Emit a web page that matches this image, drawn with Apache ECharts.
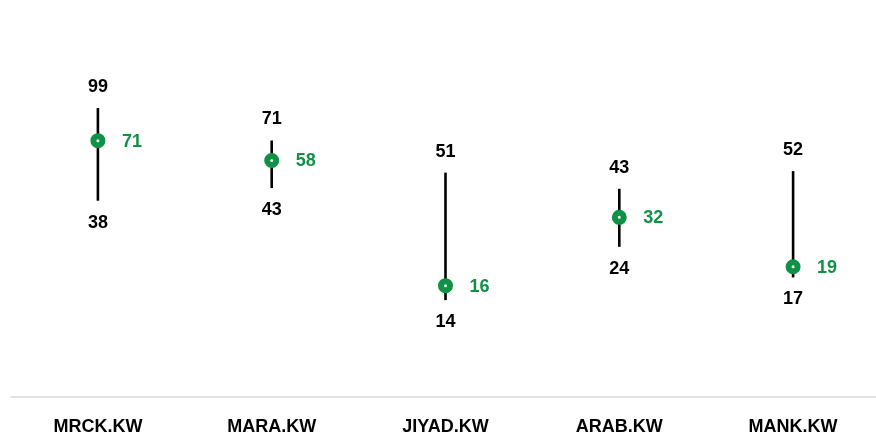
<!DOCTYPE html>
<html>
<head>
<meta charset="utf-8">
<script src="https://cdn.jsdelivr.net/npm/echarts@6/dist/echarts.min.js"></script>
<style>
html,body{margin:0;padding:0;background:#fff;}
#chart{width:876px;height:435px;}
</style>
</head>
<body>
<div id="chart"></div>
<script>
const categories = ['MRCK.KW', 'MARA.KW', 'JIYAD.KW', 'ARAB.KW', 'MANK.KW'];
const highs = [99, 70.8, 50.8, 43, 51.6];
const lows = [38, 43.3, 13.6, 23.6, 17.2];
const current = [70.7, 57.6, 15.8, 32, 19.2];

const GREEN = '#119146';
const FONT = '"Liberation Sans", Arial, sans-serif';

const chart = echarts.init(document.getElementById('chart'));
const round = p => String(Math.round(p.value[1]));
const labelBase = {
  show: true, position: 'inside', fontSize: 18, fontWeight: 'bold', fontFamily: FONT,
  textBorderWidth: 0, textBorderColor: 'transparent', textShadowBlur: 0, opacity: 1
};

chart.setOption({
  animation: false,
  backgroundColor: '#ffffff',
  grid: { left: 11, right: -4, top: 40, bottom: 38, containLabel: false, outerBoundsMode: 'none' },
  xAxis: {
    type: 'category',
    data: categories,
    boundaryGap: true,
    axisLine: { show: true, lineStyle: { color: '#d9d9d9', width: 1.5 } },
    axisTick: { show: false },
    axisLabel: { margin: 21, color: '#000', fontSize: 18, fontWeight: 'bold', fontFamily: FONT }
  },
  yAxis: {
    type: 'log', logBase: 10, min: 5, max: 200,
    axisLine: { show: false }, axisTick: { show: false },
    axisLabel: { show: false }, splitLine: { show: false }
  },
  series: [
    {
      type: 'custom',
      silent: true,
      data: categories.map((c, i) => [i, highs[i], lows[i]]),
      encode: { x: 0, y: [1, 2] },
      renderItem: function (params, api) {
        const x = api.value(0);
        const t = api.coord([x, api.value(1)]);
        const b = api.coord([x, api.value(2)]);
        return {
          type: 'line',
          shape: { x1: t[0], y1: t[1], x2: b[0], y2: b[1] },
          style: { stroke: '#000', lineWidth: 2.6 }
        };
      },
      z: 1
    },
    {
      type: 'scatter',
      silent: true,
      symbolSize: 0,
      itemStyle: { color: '#000', opacity: 1 },
      data: categories.map((c, i) => [i, highs[i]]),
      label: Object.assign({}, labelBase, { offset: [0, -21], formatter: round, color: '#000' }),
      z: 2
    },
    {
      type: 'scatter',
      silent: true,
      symbolSize: 0,
      itemStyle: { color: '#000', opacity: 1 },
      data: categories.map((c, i) => [i, lows[i]]),
      label: Object.assign({}, labelBase, { offset: [0, 22], formatter: round, color: '#000' }),
      z: 2
    },
    {
      type: 'scatter',
      silent: true,
      symbol: 'circle',
      symbolSize: 9,
      itemStyle: { color: '#ffffff', borderColor: GREEN, borderWidth: 6, opacity: 1 },
      data: categories.map((c, i) => [i, current[i]]),
      label: Object.assign({}, labelBase, { align: 'left', offset: [24, 1], formatter: round, color: GREEN }),
      z: 3
    }
  ]
});
</script>
</body>
</html>
